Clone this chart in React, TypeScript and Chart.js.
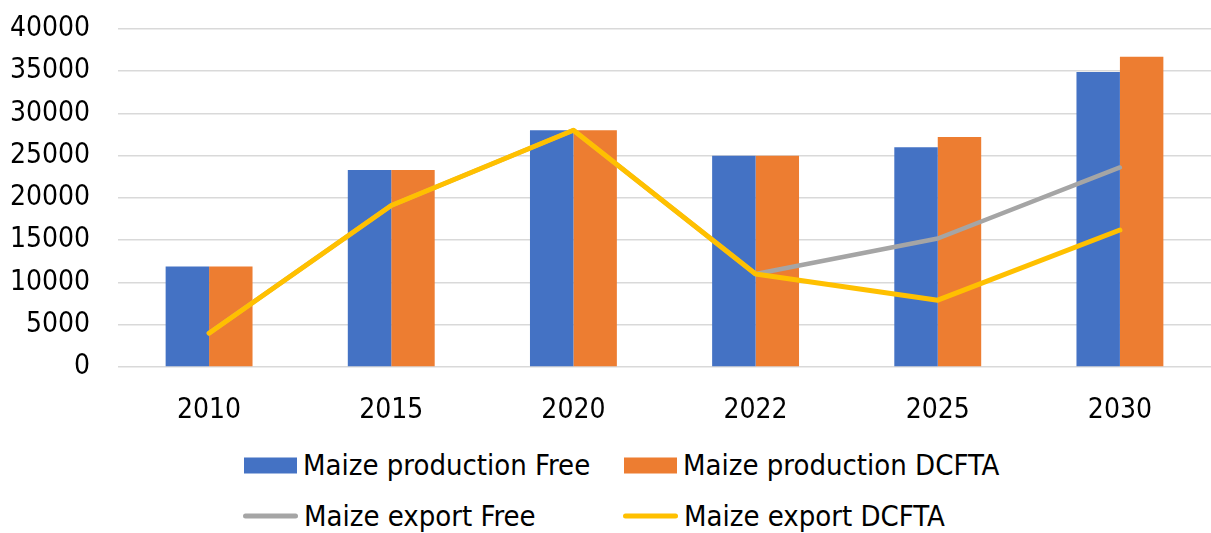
import React, { useEffect, useRef } from 'react';
import { Chart, registerables } from 'chart.js';

Chart.register(...registerables);

const categories = ['2010', '2015', '2020', '2022', '2025', '2030'];
const productionFree = [11900, 23300, 28000, 25000, 26000, 34900];
const productionDCFTA = [11900, 23300, 28000, 25000, 27200, 36700];
const exportFree = [4000, 19100, 28000, 11000, 15200, 23600];
const exportDCFTA = [4000, 19100, 28000, 11000, 7900, 16200];
const yMin = 0;
const yMax = 40000;
const yStep = 5000;

const seriesNames = [
  'Maize production Free',
  'Maize production DCFTA',
  'Maize export Free',
  'Maize export DCFTA',
];
const colors = ['#4472C4', '#ED7D31', '#A5A5A5', '#FFC000'];

const FONT = '"DejaVu Sans Condensed", "DejaVu Sans", sans-serif';
const TICK_SIZE = 28;
const LEGEND_SIZE = 29;

export default function App() {
  const ref = useRef<HTMLCanvasElement>(null);

  useEffect(() => {
    const chart = new Chart(ref.current as HTMLCanvasElement, {
      type: 'bar',
      data: {
        labels: categories,
        datasets: [
          {
            type: 'bar',
            label: seriesNames[0],
            data: productionFree,
            backgroundColor: colors[0],
            categoryPercentage: 0.477,
            barPercentage: 1,
            order: 3,
          },
          {
            type: 'bar',
            label: seriesNames[1],
            data: productionDCFTA,
            backgroundColor: colors[1],
            categoryPercentage: 0.477,
            barPercentage: 1,
            order: 4,
          },
          {
            type: 'line',
            label: seriesNames[2],
            data: exportFree,
            borderColor: colors[2],
            backgroundColor: colors[2],
            borderWidth: 4.5,
            pointRadius: 0,
            fill: false,
            tension: 0,
            borderCapStyle: 'round',
            borderJoinStyle: 'round',
            order: 2,
          },
          {
            type: 'line',
            label: seriesNames[3],
            data: exportDCFTA,
            borderColor: colors[3],
            backgroundColor: colors[3],
            borderWidth: 5,
            pointRadius: 0,
            fill: false,
            tension: 0,
            borderCapStyle: 'round',
            borderJoinStyle: 'round',
            order: 1,
          },
        ],
      } as any,
      options: {
        responsive: false,
        animation: false,
        layout: { padding: { top: 0, left: 0, right: 0, bottom: 0 } },
        plugins: { legend: { display: false }, tooltip: { enabled: false } },
        scales: {
          x: {
            grid: { display: false },
            border: { display: false },
            ticks: {
              font: { family: FONT, size: TICK_SIZE },
              color: '#000',
              padding: 19,
              maxRotation: 0,
            },
            afterFit: (s: any) => {
              s.height = 73;
            },
          },
          y: {
            min: yMin,
            max: yMax,
            ticks: {
              stepSize: yStep,
              font: { family: FONT, size: TICK_SIZE },
              color: '#000',
              padding: 28,
              callback: (v: any) => String(v),
            },
            grid: { color: '#D9D9D9', lineWidth: 1.5, drawTicks: false },
            border: { display: false },
            afterFit: (s: any) => {
              s.width = 118;
            },
          },
        },
      } as any,
    });
    return () => chart.destroy();
  }, []);

  const textStyle: React.CSSProperties = {
    fontFamily: FONT,
    fontSize: LEGEND_SIZE,
    color: '#000',
    marginLeft: 6,
    whiteSpace: 'nowrap',
    lineHeight: 1,
  };

  const item = (i: number, left: number, top: number, isLine: boolean) => (
    <div
      key={i}
      style={{
        position: 'absolute',
        left,
        top,
        transform: 'translateY(-50%)',
        display: 'flex',
        alignItems: 'center',
      }}
    >
      <span
        style={{
          display: 'inline-block',
          width: isLine ? 55 : 53,
          height: isLine ? 5 : 16,
          borderRadius: isLine ? 2.5 : 0,
          background: colors[i],
        }}
      />
      <span style={textStyle}>{seriesNames[i]}</span>
    </div>
  );

  return (
    <div
      style={{
        position: 'fixed',
        left: 0,
        top: 0,
        width: 1211,
        height: 533,
        background: '#fff',
        overflow: 'hidden',
      }}
    >
      <canvas
        ref={ref}
        width={1211}
        height={456}
        style={{ display: 'block', position: 'absolute', left: 0, top: -16 }}
      />
      {item(0, 244, 465, false)}
      {item(1, 624, 465, false)}
      {item(2, 243, 516, true)}
      {item(3, 623, 516, true)}
    </div>
  );
}
